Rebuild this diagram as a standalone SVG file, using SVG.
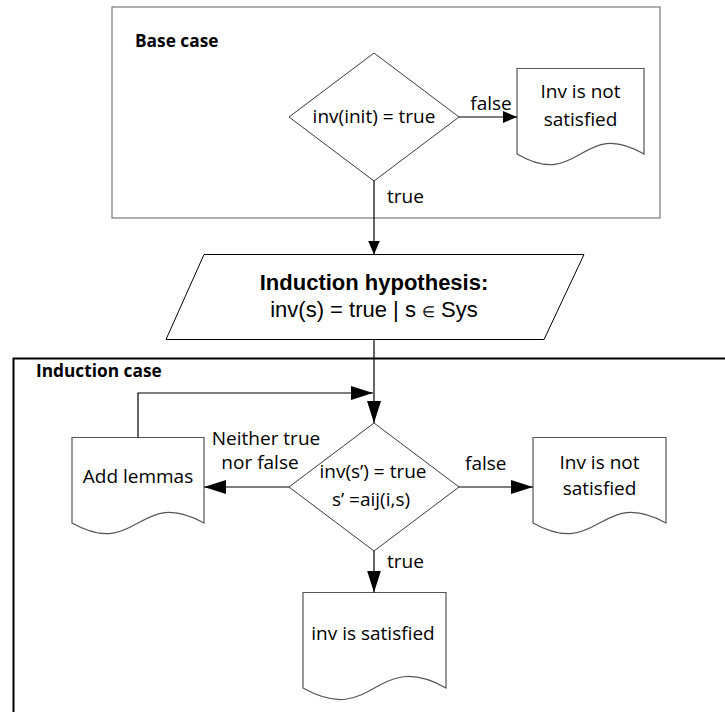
<svg xmlns="http://www.w3.org/2000/svg" width="725" height="712" viewBox="0 0 725 712">
  <style>
    .lbl { font-family: "Open Sans", "Liberation Sans", sans-serif; font-size: 19px; fill: #000; }
    .ttl { font-family: "Open Sans", "Liberation Sans", sans-serif; font-size: 17.3px; font-weight: bold; fill: #000; }
    .mid { text-anchor: middle; }
    .arial { font-family: "Liberation Sans", Arial, sans-serif; font-size: 22px; fill: #000; text-anchor: middle; }
    .doc { fill: #fff; stroke: #555; stroke-width: 1.2; }
    .dia { fill: #fff; stroke: #3a3a3a; stroke-width: 1; }
    .conn { fill: none; stroke: #000; stroke-width: 1.2; }
  </style>
  <defs>
    <marker id="arrowSmall" markerUnits="userSpaceOnUse" markerWidth="14" markerHeight="12" refX="14" refY="6" orient="auto">
      <path d="M0,0 L14,6 L0,12 Z" fill="#000"/>
    </marker>
    <marker id="arrowLarge" markerUnits="userSpaceOnUse" markerWidth="22" markerHeight="14" refX="22" refY="7" orient="auto">
      <path d="M0,0 L22,7 L0,14 Z" fill="#000"/>
    </marker>
  </defs>

  <rect width="725" height="712" fill="#fff"/>

  <!-- Base case frame -->
  <g id="base-case">
    <rect x="112" y="7" width="548" height="211" fill="#fff" stroke="#7a7a7a" stroke-width="1.2"/>
    <text class="ttl" x="135" y="47">Base case</text>
  </g>

  <!-- Induction case frame (runs off the right and bottom edges) -->
  <g id="induction-case">
    <rect x="13.5" y="358.5" width="730" height="380" fill="#fff" stroke="#000" stroke-width="2"/>
    <text class="ttl" x="36" y="377">Induction case</text>
  </g>

  <g id="check-init">
    <polygon class="dia" points="374,53 459,117 374,181 289,117"/>
    <text class="lbl mid" x="374" y="123">inv(init) = true</text>
  </g>

  <g id="init-fails">
    <path class="doc" d="M517,68.5 H644 V154 C580.5,117 580.5,191 517,154 Z"/>
    <text class="lbl mid" x="580.5" y="98">Inv is not</text>
    <text class="lbl mid" x="580.5" y="126">satisfied</text>
  </g>

  <g id="hypothesis">
    <polygon points="204,254.5 584,254.5 544,339.5 166,339.5" fill="#fff" stroke="#000" stroke-width="1"/>
    <text class="arial" x="374" y="290" font-weight="bold">Induction hypothesis:</text>
    <text class="arial" x="374" y="316.5">inv(s) = true | s <tspan font-size="15">∈</tspan> Sys</text>
  </g>

  <g id="check-step">
    <polygon class="dia" points="374,423 459,487 374,551 289,487"/>
    <text class="lbl mid" x="373" y="478">inv(s’) = true</text>
    <text class="lbl mid" x="371" y="506">s’ =aij(i,s)</text>
  </g>

  <g id="add-lemmas">
    <path class="doc" d="M72,437.5 H204 V523 C138,486 138,560 72,523 Z"/>
    <text class="lbl mid" x="138" y="483">Add lemmas</text>
  </g>

  <g id="step-fails">
    <path class="doc" d="M533,437.5 H666 V523 C599.5,486 599.5,560 533,523 Z"/>
    <text class="lbl mid" x="599.5" y="469">Inv is not</text>
    <text class="lbl mid" x="599.5" y="495">satisfied</text>
  </g>

  <g id="step-holds">
    <path class="doc" d="M303,592.5 H446 V688 C374.5,648 374.5,728 303,688 Z"/>
    <text class="lbl mid" x="373" y="640">inv is satisfied</text>
  </g>

  <!-- Connectors and their labels -->
  <g id="connectors">
    <path class="conn" d="M459,117 H517" marker-end="url(#arrowSmall)"/>
    <path class="conn" d="M374,181 V254.5" marker-end="url(#arrowSmall)"/>
    <path class="conn" d="M374,339.5 V423" marker-end="url(#arrowLarge)"/>
    <path class="conn" d="M138,437.5 V393 H373" marker-end="url(#arrowLarge)"/>
    <path class="conn" d="M289,487 H204" marker-end="url(#arrowLarge)"/>
    <path class="conn" d="M459,487 H533" marker-end="url(#arrowLarge)"/>
    <path class="conn" d="M374,551 V592.5" marker-end="url(#arrowLarge)"/>

    <text class="lbl mid" x="491" y="110">false</text>
    <text class="lbl" x="387" y="203">true</text>
    <text class="lbl mid" x="266" y="445">Neither true</text>
    <text class="lbl mid" x="260" y="469">nor false</text>
    <text class="lbl" x="465" y="470">false</text>
    <text class="lbl" x="387" y="568">true</text>
  </g>
</svg>
